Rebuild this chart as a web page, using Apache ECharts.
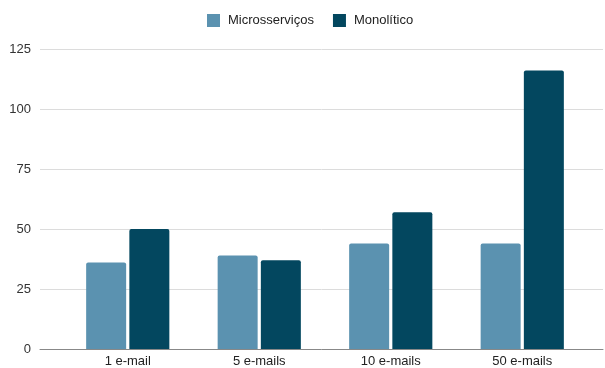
<!DOCTYPE html>
<html>
<head>
<meta charset="utf-8">
<script src="https://cdn.jsdelivr.net/npm/echarts@6/dist/echarts.min.js"></script>
<style>
  html, body { margin: 0; padding: 0; background: #fff; }
  #chart { width: 605px; height: 368px; }
</style>
</head>
<body>
<div id="chart"></div>
<script>
var categories = ['1 e-mail', '5 e-mails', '10 e-mails', '50 e-mails'];
var microsservicos = [36, 39, 44, 44];
var monolitico = [50, 37, 57, 116];
var yTicks = [0, 25, 50, 75, 100, 125];

var font = '"Liberation Sans", Arial, sans-serif';
var chart = echarts.init(document.getElementById('chart'));

chart.setOption({
    animation: false,
    textStyle: { fontFamily: font },
    legend: {
        top: 9,
        left: 202,
        itemWidth: 13,
        itemHeight: 13,
        itemGap: 19,
        icon: 'rect',
        textStyle: { fontSize: 13, color: '#222', fontFamily: font, padding: [0, 0, 0, 3] },
        data: ['Microsserviços', 'Monolítico']
    },
    grid: [
        // full-width grid for gridlines, y labels and baseline
        { left: 40, right: 2, top: 49, bottom: 19 },
        // bar area
        { left: 62, right: 17, top: 49, bottom: 19 }
    ],
    xAxis: [
        {
            gridIndex: 0, type: 'value', min: 0, max: 1,
            axisLine: { show: true, onZero: false, lineStyle: { color: '#888', width: 1 } },
            axisTick: { show: false }, axisLabel: { show: false }, splitLine: { show: false }
        },
        {
            gridIndex: 1, type: 'category', data: categories,
            axisLine: { show: false }, axisTick: { show: false },
            axisLabel: { fontSize: 13, color: '#222', margin: 6, fontFamily: font }
        }
    ],
    yAxis: [
        {
            gridIndex: 0, type: 'value', min: yTicks[0], max: yTicks[yTicks.length - 1], interval: 25,
            axisLine: { show: false }, axisTick: { show: false },
            axisLabel: { fontSize: 13, color: '#333', margin: 9, fontFamily: font },
            splitLine: { lineStyle: { color: '#dcdcdc', width: 1 } }
        },
        {
            gridIndex: 1, type: 'value', min: yTicks[0], max: yTicks[yTicks.length - 1], interval: 25,
            show: false
        }
    ],
    series: [
        {
            name: 'Microsserviços', type: 'bar', xAxisIndex: 1, yAxisIndex: 1,
            data: microsservicos, barWidth: 40, barGap: '8%',
            itemStyle: { color: '#5b92b0', borderRadius: [2, 2, 0, 0] }
        },
        {
            name: 'Monolítico', type: 'bar', xAxisIndex: 1, yAxisIndex: 1,
            data: monolitico, barWidth: 40, barGap: '8%',
            itemStyle: { color: '#03475f', borderRadius: [2, 2, 0, 0] }
        }
    ]
});

window.addEventListener('resize', function() {
    chart.resize();
});
</script>
</body>
</html>
